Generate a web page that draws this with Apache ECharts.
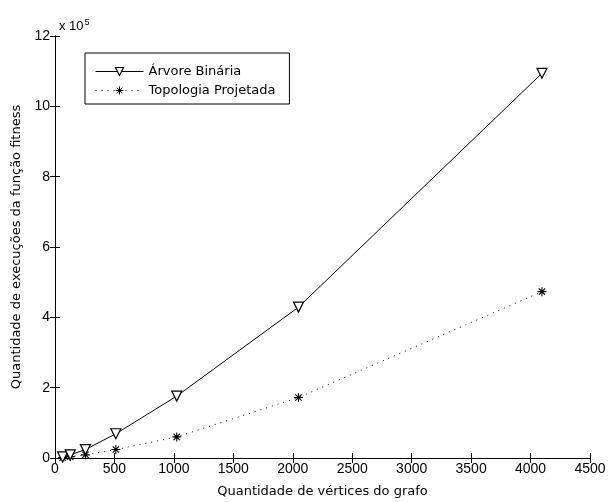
<!DOCTYPE html>
<html>
<head>
<meta charset="utf-8">
<script src="https://cdn.jsdelivr.net/npm/echarts@6/dist/echarts.min.js"></script>
<style>
  html, body { margin: 0; padding: 0; background: #fff; }
  #chart { width: 608px; height: 502px; }
</style>
</head>
<body>
<div id="chart"></div>
<script>
// vértices do grafo
const vertices = [64, 128, 256, 512, 1024, 2048, 4096];
// execuções (x 10^5)
const arvoreBinaria = [0.03, 0.09, 0.24, 0.69, 1.76, 4.29, 10.94];
const topologiaProjetada = [0.01, 0.04, 0.09, 0.24, 0.6, 1.72, 4.73];

const seriesNames = ['Árvore Binária', 'Topologia Projetada'];

const asterisk = 'path://M5,0L5,10M0,5L10,5M1.5,1.5L8.5,8.5M1.5,8.5L8.5,1.5';

const chart = echarts.init(document.getElementById('chart'));

const tickFont = { color: '#000', fontSize: 14, fontFamily: 'Liberation Sans', formatter: v => String(v) };
const lineBlack = { lineStyle: { color: '#000', width: 1 } };

const option = {
  backgroundColor: '#fff',
  animation: false,
  title: {
    text: 'x 10{sup|5}',
    left: 54,
    top: 13,
    textStyle: {
      fontSize: 13, fontWeight: 'normal', color: '#000', fontFamily: 'Liberation Sans',
      rich: { sup: { fontSize: 9, verticalAlign: 'top', padding: [0, 0, 8, 1], color: '#000' } }
    }
  },
  legend: {
    orient: 'vertical',
    left: 85,
    top: 53,
    width: 220,
    padding: [12, 14, 7, 10],
    itemGap: 6,
    itemWidth: 48,
    itemHeight: 10,
    borderColor: '#000',
    borderWidth: 1,
    backgroundColor: '#fff',
    lineStyle: { width: 1 },
    textStyle: { color: '#000', fontSize: 13, fontFamily: 'DejaVu Sans' },
    data: [
      { name: seriesNames[0], itemStyle: { color: '#fff', borderColor: '#000', borderWidth: 1.2 } },
      { name: seriesNames[1], itemStyle: { color: 'rgba(0,0,0,0)', borderColor: '#000', borderWidth: 1 } }
    ]
  },
  grid: { left: 55, right: 18, top: 36, bottom: 44, outerBoundsMode: 'none' },
  xAxis: [
    {
      type: 'value',
      min: 0, max: 4500, interval: 500,
      name: 'Quantidade de vértices do grafo',
      nameLocation: 'middle',
      nameGap: 27,
      nameTextStyle: { color: '#000', fontSize: 13, fontFamily: 'DejaVu Sans' },
      axisLine: lineBlack,
      axisTick: { inside: true, length: 5, lineStyle: { color: '#000' } },
      axisLabel: Object.assign({ margin: 4 }, tickFont),
      splitLine: { show: false }
    },
    {
      type: 'value', position: 'top',
      min: 0, max: 4500, interval: 500,
      axisLine: lineBlack,
      axisTick: { inside: true, length: 5, lineStyle: { color: '#000' } },
      axisLabel: { show: false },
      splitLine: { show: false }
    }
  ],
  yAxis: [
    {
      type: 'value',
      min: 0, max: 12, interval: 2,
      name: 'Quantidade de execuções da função fitness',
      nameLocation: 'middle',
      nameGap: 31,
      nameTextStyle: { color: '#000', fontSize: 13, fontFamily: 'DejaVu Sans' },
      axisLine: lineBlack,
      axisTick: { inside: true, length: 5, lineStyle: { color: '#000' } },
      axisLabel: Object.assign({ margin: 5 }, tickFont),
      splitLine: { show: false }
    },
    {
      type: 'value', position: 'right',
      min: 0, max: 12, interval: 2,
      axisLine: lineBlack,
      axisTick: { inside: true, length: 5, lineStyle: { color: '#000' } },
      axisLabel: { show: false },
      splitLine: { show: false }
    }
  ],
  series: [
    {
      name: seriesNames[0],
      type: 'line',
      data: vertices.map((v, i) => [v, arvoreBinaria[i]]),
      symbol: 'triangle',
      symbolRotate: 180,
      symbolSize: 10,
      lineStyle: { color: '#000', width: 1 },
      itemStyle: { color: '#fff', borderColor: '#000', borderWidth: 1.2 },
      z: 3
    },
    {
      name: seriesNames[1],
      type: 'line',
      data: vertices.map((v, i) => [v, topologiaProjetada[i]]),
      symbol: asterisk,
      symbolSize: 9,
      lineStyle: { color: '#000', width: 1, type: [1, 5] },
      itemStyle: { color: 'rgba(0,0,0,0)', borderColor: '#000', borderWidth: 1.1 },
      z: 2
    }
  ]
};

chart.setOption(option);
</script>
</body>
</html>
